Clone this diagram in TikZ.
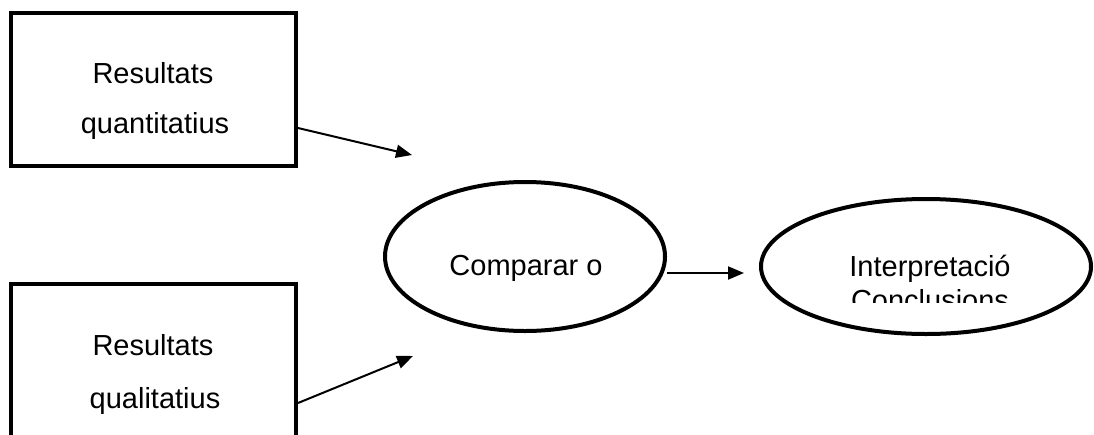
\documentclass[tikz,border=0pt]{standalone}
\usepackage{fontspec}
\setmainfont{Liberation Sans}
\usetikzlibrary{shapes.geometric,arrows.meta}
\begin{document}
\begin{tikzpicture}[x=1pt,y=-1pt,
  boxnode/.style={draw, line width=4pt, minimum width=285pt, minimum height=153pt, inner sep=0pt},
  ovalnode/.style={draw, ellipse, line width=4pt, inner sep=0pt},
  txt/.style={font=\fontsize{29}{34}\selectfont, anchor=base, inner sep=0pt},
  arr/.style={line width=2pt, -{Triangle[length=16pt,width=13pt]}}]
\useasboundingbox (0,0) rectangle (1094,434);
\fill[white] (0,0) rectangle (1094,434);
% boxes
\node[boxnode] (quant) at (153.5,89.5) {};
\node[boxnode, minimum height=160pt] (qual) at (153.5,364) {};
\node[txt] (quant1) at (153,83) {Resultats};
\node[txt] (quant2) at (155,133) {quantitatius};
\node[txt] (qual1) at (153,355) {Resultats};
\node[txt] (qual2) at (155,408) {qualitatius};
% ellipses
\node[ovalnode, minimum width=280pt, minimum height=149pt] (comp) at (525,256.5) {};
\node[txt] (comptxt) at (526,275) {Comparar o};
\node[ovalnode, minimum width=330pt, minimum height=135pt] (interp) at (926,266.5) {};
\node[txt] (interptxt) at (930,276) {Interpretació};
\begin{scope}
  \clip (800,280) rectangle (1060,302);
  \node[txt] (conctxt) at (930,310) {Conclusions};
\end{scope}
% arrow ends
\coordinate (e1) at (412,155);
\coordinate (e2) at (413,356);
\coordinate (e3) at (744,273);
\draw[arr] ([yshift=-38.5pt]quant.east) -- (e1);
\draw[arr] ([yshift=-39pt]qual.east) -- (e2);
\draw[arr] ([yshift=-16.5pt]comp.east) -- (e3);
\end{tikzpicture}
\end{document}
